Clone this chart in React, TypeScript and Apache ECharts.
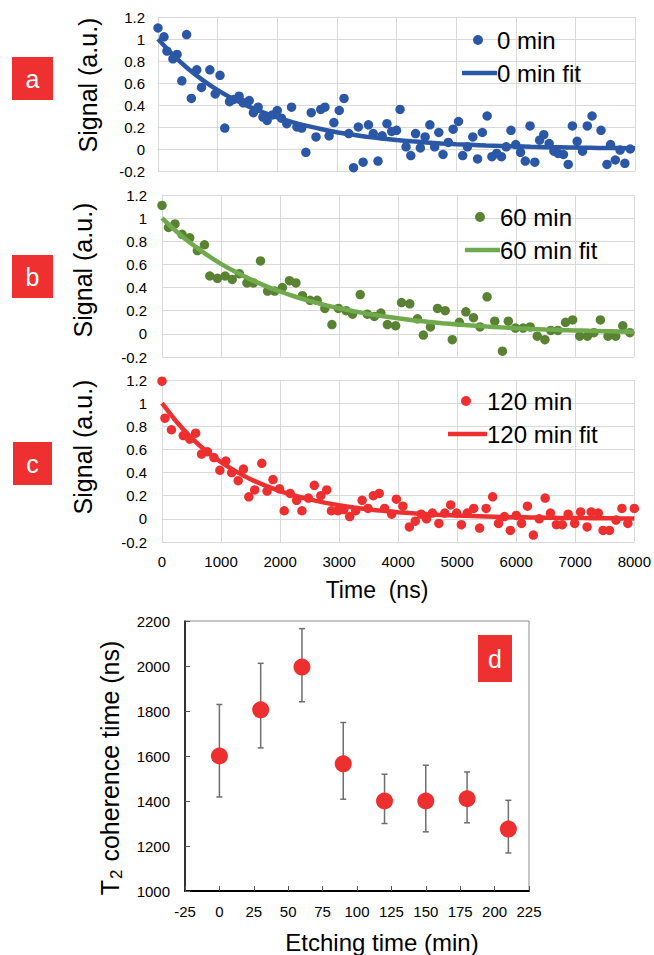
import React, { useEffect, useRef } from "react";
import * as echarts from "echarts";

const FONT = '"Liberation Sans", Arial, sans-serif';

// Signal decay, 0 min etching
const timeA = [0,100,150,250,320,400,480,560,650,730,870,960,1040,1120,1200,1270,1360,1430,1530,1600,1680,1760,1830,1920,2000,2070,2160,2240,2330,2410,2480,2570,2650,2730,2800,2870,2950,3040,3120,3200,3280,3360,3440,3530,3610,3690,3760,3840,3920,4000,4060,4160,4240,4320,4400,4480,4560,4640,4710,4780,4870,4950,5040,5110,5190,5280,5360,5440,5520,5600,5680,5760,5840,5920,6000,6080,6160,6240,6320,6400,6470,6560,6640,6710,6800,6880,6950,7030,7120,7200,7280,7430,7530,7590,7670,7750,7830,7920];
const signalA = [1.10,1.02,0.89,0.82,0.86,0.62,1.04,0.46,0.72,0.56,0.72,0.50,0.67,0.19,0.43,0.45,0.48,0.42,0.44,0.33,0.38,0.29,0.26,0.31,0.35,0.28,0.23,0.38,0.20,0.19,-0.03,0.33,0.11,0.36,0.38,0.12,0.24,0.35,0.46,0.14,-0.17,0.20,-0.12,0.22,0.14,-0.11,0.12,0.23,0.16,0.17,0.36,0.02,-0.06,0.14,0.01,0.11,0.22,0.02,0.15,-0.05,0.06,0.18,0.25,-0.06,0.02,0.11,-0.09,0.15,0.30,-0.07,-0.04,-0.07,0.02,0.17,0.04,-0.03,-0.11,0.21,-0.12,0.08,0.13,0.05,-0.02,-0.04,-0.05,-0.14,0.21,0.07,-0.02,0.21,0.30,0.17,-0.14,0.04,-0.10,-0.01,-0.13,0.00];

// Signal decay, 60 min etching
const timeB = [0,110,220,340,470,600,720,810,940,1070,1190,1310,1440,1550,1670,1790,1910,2040,2160,2270,2380,2510,2630,2760,2880,2990,3120,3230,3360,3480,3600,3710,3820,3960,4060,4200,4330,4430,4550,4670,4800,4920,5040,5150,5280,5390,5510,5640,5770,5870,5990,6120,6240,6360,6490,6590,6710,6840,6960,7080,7210,7320,7430,7560,7690,7810,7930];
const signalB = [1.11,0.92,0.95,0.86,0.83,0.72,0.77,0.50,0.48,0.50,0.47,0.52,0.44,0.44,0.63,0.37,0.37,0.40,0.46,0.44,0.33,0.29,0.29,0.22,0.08,0.22,0.20,0.17,0.34,0.17,0.15,0.18,0.08,0.07,0.27,0.26,0.13,-0.01,0.06,0.22,0.20,-0.05,0.10,0.19,0.14,0.06,0.32,0.11,-0.15,0.11,0.05,0.05,0.06,-0.02,-0.05,0.03,0.03,0.10,0.12,-0.02,-0.02,0.01,0.12,-0.02,-0.02,0.07,0.01];

// Signal decay, 120 min etching
const timeC = [0,50,160,360,470,570,670,770,880,980,1080,1180,1290,1380,1470,1570,1690,1780,1880,1990,2070,2170,2280,2370,2480,2580,2690,2790,2870,2980,3080,3180,3280,3390,3490,3580,3680,3770,3890,3970,4080,4190,4290,4390,4480,4580,4690,4790,4890,4990,5070,5170,5280,5380,5490,5600,5700,5800,5900,6000,6090,6190,6290,6390,6490,6580,6680,6780,6880,6990,7090,7200,7270,7390,7470,7580,7690,7790,7890,8000];
const signalC = [1.19,0.87,0.77,0.72,0.69,0.74,0.56,0.58,0.53,0.42,0.50,0.40,0.33,0.43,0.19,0.25,0.48,0.24,0.34,0.26,0.07,0.22,0.16,0.07,0.18,0.29,0.20,0.25,0.07,0.07,0.08,0.02,0.07,0.16,0.09,0.20,0.22,0.09,0.04,0.17,0.11,-0.07,-0.02,0.04,0.00,0.05,-0.04,0.05,0.12,0.05,-0.05,0.05,0.09,-0.08,0.09,0.19,-0.04,0.02,-0.10,0.03,-0.04,0.11,-0.14,0.00,0.18,0.05,-0.05,-0.05,0.04,-0.04,0.06,-0.07,0.06,0.05,-0.10,-0.10,-0.01,0.09,-0.04,0.09];

// Fitted decay curves, sampled every 250 ns
const fitTime = [0,250,500,750,1000,1250,1500,1750,2000,2250,2500,2750,3000,3250,3500,3750,4000,4250,4500,4750,5000,5250,5500,5750,6000,6250,6500,6750,7000,7250,7500,7750,8000];
const fitA = [1.0,0.855,0.732,0.626,0.535,0.458,0.392,0.335,0.287,0.245,0.21,0.179,0.153,0.131,0.112,0.096,0.082,0.07,0.06,0.051,0.044,0.038,0.032,0.028,0.024,0.02,0.017,0.015,0.013,0.011,0.009,0.008,0.007];
const fitB = [1.0,0.882,0.778,0.686,0.605,0.534,0.471,0.415,0.366,0.323,0.285,0.251,0.221,0.195,0.172,0.152,0.134,0.118,0.104,0.092,0.081,0.072,0.063,0.056,0.049,0.043,0.038,0.034,0.03,0.026,0.023,0.02,0.018];
const fitC = [1.0,0.837,0.7,0.585,0.49,0.41,0.343,0.287,0.24,0.2,0.168,0.14,0.117,0.098,0.082,0.069,0.058,0.048,0.04,0.034,0.028,0.024,0.02,0.016,0.014,0.012,0.01,0.008,0.007,0.006,0.005,0.004,0.003];

// T2 coherence time vs etching time
const etchTime = [0,30,60,90,120,150,180,210];
const t2 = [1600,1805,1995,1565,1400,1400,1410,1275];
const t2Low = [1418,1636,1841,1408,1300,1263,1303,1169];
const t2High = [1829,2012,2166,1749,1519,1559,1529,1403];

const BLUE = "#2B58A6";
const GREEN_DOT = "#5A8233";
const GREEN_LINE = "#6FAB4C";
const RED = "#EE2F2F";
const GRID_GRAY = "#D9D9D9";

const zip = (xs: number[], ys: number[]) => xs.map((x, i) => [x, ys[i]]);

const textStyle = (text: string, size: number, fill: string, align: string) => ({
  text,
  fill,
  fontSize: size,
  fontFamily: FONT,
  textAlign: align,
  textVerticalAlign: "middle",
});

function decayAxes(idx: number, showX: boolean) {
  const xAxis = {
    gridIndex: idx,
    type: "value",
    min: 0,
    max: 8000,
    interval: 1000,
    axisLine: { show: true, lineStyle: { color: GRID_GRAY, width: 1 } },
    axisTick: { show: false },
    splitLine: { show: true, lineStyle: { color: GRID_GRAY, width: 1 } },
    axisLabel: { show: showX, color: "#000", fontSize: 15, fontFamily: FONT, margin: 12, formatter: (v: number) => String(v) },
  };
  const yAxis = {
    gridIndex: idx,
    type: "value",
    min: -0.2,
    max: 1.2,
    interval: 0.2,
    axisLine: { show: true, lineStyle: { color: GRID_GRAY, width: 1 } },
    axisTick: { show: false },
    splitLine: { show: true, lineStyle: { color: GRID_GRAY, width: 1 } },
    axisLabel: {
      color: "#000",
      fontSize: 15,
      fontFamily: FONT,
      margin: idx === 0 ? 13 : 15,
      formatter: (v: number) => String(Math.round(v * 10) / 10),
    },
  };
  return { xAxis, yAxis };
}

function legend(key: string, mx: number, my: number, lx0: number, lx1: number, ly: number, tx: number, name: string, dot: string, line: string) {
  return [
    { type: "rect", id: key + "-dot", z: 10, shape: { x: mx - 5, y: my - 5, width: 10, height: 10, r: 5 }, style: { fill: dot, stroke: "none" } },
    { type: "text", id: key + "-name", z: 10, x: tx, y: my, style: textStyle(name, 24, "#000", "left") },
    { type: "line", id: key + "-line", z: 10, shape: { x1: lx0, y1: ly, x2: lx1, y2: ly }, style: { stroke: line, lineWidth: 4.5 } },
    { type: "text", id: key + "-fit", z: 10, x: tx, y: ly, style: textStyle(name + " fit", 24, "#000", "left") },
  ];
}

function tag(x: number, y: number, w: number, h: number, letter: string) {
  return [
    { type: "rect", id: "tag-" + letter, shape: { x, y, width: w, height: h }, style: { fill: "#EE3130" } },
    { type: "text", id: "tagtext-" + letter, x: x + w / 2, y: y + h / 2, style: textStyle(letter, 25, "#fff", "center") },
  ];
}

function vText(key: string, x: number, y: number, text: string, size: number) {
  return { type: "text", id: key, x, y, rotation: Math.PI / 2, style: textStyle(text, size, "#000", "center") };
}

function hText(key: string, x: number, y: number, text: string, size: number) {
  return { type: "text", id: key, x, y, style: textStyle(text, size, "#000", "center") };
}

export default function App() {
  const ref = useRef<HTMLDivElement>(null);

  useEffect(() => {
    if (!ref.current) return;
    const chart = echarts.init(ref.current, undefined, { renderer: "svg" });

    const a = decayAxes(0, false);
    const b = decayAxes(1, false);
    const c = decayAxes(2, true);

    const fitLine = (name: string, idx: number, ys: number[], color: string) => ({
      type: "line",
      name,
      xAxisIndex: idx,
      yAxisIndex: idx,
      data: zip(fitTime, ys),
      smooth: 0.2,
      showSymbol: false,
      lineStyle: { color, width: 4.5 },
    });

    const dots = (name: string, idx: number, xs: number[], ys: number[], color: string) => ({
      type: "scatter",
      name,
      xAxisIndex: idx,
      yAxisIndex: idx,
      data: zip(xs, ys),
      symbolSize: 9.5,
      itemStyle: { color, opacity: 1 },
    });

    const option: any = {
      animation: false,
      backgroundColor: "#fff",
      grid: [
        { left: 158, top: 17, width: 477, height: 154 },
        { left: 162, top: 195, width: 472, height: 162 },
        { left: 162, top: 380, width: 473, height: 162 },
        { left: 185, top: 621, width: 344, height: 270, show: true, borderColor: "#8C8C8C", borderWidth: 1 },
      ],
      xAxis: [
        a.xAxis,
        b.xAxis,
        c.xAxis,
        {
          gridIndex: 3,
          type: "value",
          min: -25,
          max: 225,
          interval: 25,
          axisLine: { show: true, onZero: false, lineStyle: { color: "#000", width: 2 } },
          axisTick: { show: true, inside: true, length: 5, lineStyle: { color: "#555" } },
          splitLine: { show: false },
          axisLabel: { color: "#000", fontSize: 15, fontFamily: FONT, margin: 13, formatter: (v: number) => String(v) },
        },
      ],
      yAxis: [
        a.yAxis,
        b.yAxis,
        c.yAxis,
        {
          gridIndex: 3,
          type: "value",
          min: 1000,
          max: 2200,
          interval: 200,
          axisLine: { show: true, onZero: false, lineStyle: { color: "#000", width: 1.5 } },
          axisTick: { show: true, inside: true, length: 5, lineStyle: { color: "#555" } },
          splitLine: { show: false },
          axisLabel: { color: "#000", fontSize: 15, fontFamily: FONT, margin: 15, formatter: (v: number) => String(v) },
        },
      ],
      series: [
        dots("0 min", 0, timeA, signalA, BLUE),
        fitLine("0 min fit", 0, fitA, BLUE),
        dots("60 min", 1, timeB, signalB, GREEN_DOT),
        fitLine("60 min fit", 1, fitB, GREEN_LINE),
        dots("120 min", 2, timeC, signalC, RED),
        fitLine("120 min fit", 2, fitC, RED),
        {
          type: "custom",
          name: "T2 error",
          xAxisIndex: 3,
          yAxisIndex: 3,
          z: 1,
          data: etchTime.map((t, i) => [t, t2Low[i], t2High[i]]),
          renderItem: (params: any, api: any) => {
            const lo = api.coord([api.value(0), api.value(1)]);
            const hi = api.coord([api.value(0), api.value(2)]);
            const cap = 3;
            const st = { stroke: "#6E6E6E", lineWidth: 1.5 };
            return {
              type: "group",
              children: [
                { type: "line", shape: { x1: lo[0], y1: lo[1], x2: hi[0], y2: hi[1] }, style: st },
                { type: "line", shape: { x1: lo[0] - cap, y1: lo[1], x2: lo[0] + cap, y2: lo[1] }, style: st },
                { type: "line", shape: { x1: hi[0] - cap, y1: hi[1], x2: hi[0] + cap, y2: hi[1] }, style: st },
              ],
            };
          },
        },
        {
          type: "scatter",
          name: "T2",
          xAxisIndex: 3,
          yAxisIndex: 3,
          z: 3,
          data: zip(etchTime, t2),
          symbolSize: 17,
          itemStyle: { color: RED, opacity: 1 },
        },
      ],
      graphic: [
        ...tag(12, 57, 41, 43, "a"),
        ...tag(12, 255, 41, 43, "b"),
        ...tag(13, 442, 39, 43, "c"),
        ...tag(478, 635, 34, 47, "d"),
        vText("ytitle-a", 88, 85, "Signal (a.u.)", 25),
        vText("ytitle-b", 83, 270, "Signal (a.u.)", 25),
        vText("ytitle-c", 83, 447, "Signal (a.u.)", 25),
        hText("xtitle-c", 377, 590, "Time  (ns)", 23),
        hText("xtitle-d", 382, 942, "Etching time (min)", 24),
        {
          type: "text",
          id: "ytitle-d",
          x: 110,
          y: 768,
          rotation: Math.PI / 2,
          style: {
            text: "{m|T}{s|2}{m| coherence time (ns)}",
            fill: "#000",
            fontFamily: FONT,
            textAlign: "center",
            textVerticalAlign: "middle",
            rich: {
              m: { fontSize: 25, fontFamily: FONT, fill: "#000", lineHeight: 30, verticalAlign: "middle" },
              s: { fontSize: 17, fontFamily: FONT, fill: "#000", lineHeight: 30, verticalAlign: "bottom", padding: [12, 1, 0, 1] },
            },
          },
        },
        ...legend("lg-a", 478, 40, 462, 497, 73, 497, "0 min", BLUE, BLUE),
        ...legend("lg-b", 480, 217, 465, 500, 250, 500, "60 min", GREEN_DOT, GREEN_LINE),
        ...legend("lg-c", 466, 401, 448, 487, 434, 487, "120 min", RED, RED),
      ],
    };

    chart.setOption(option);
    return () => chart.dispose();
  }, []);

  return <div ref={ref} style={{ position: "absolute", left: 0, top: 0, width: 654, height: 955 }} />;
}
